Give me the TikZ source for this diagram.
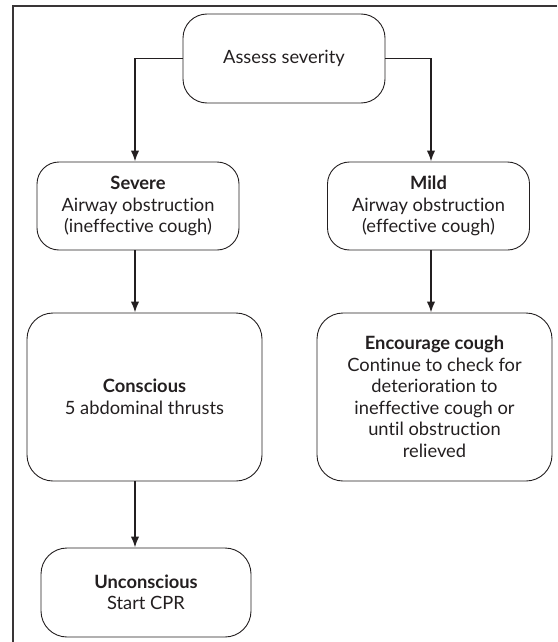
\documentclass[tikz,border=0pt]{standalone}
\usepackage{fontspec}
\setmainfont{Lato}[Ligatures=NoCommon]
\usetikzlibrary{arrows.meta}
\definecolor{ink}{HTML}{231F20}
\tikzset{
  box/.style={draw=ink, line width=0.9pt, rounded corners=24pt, align=center,
    text=ink, inner sep=0pt, font=\fontsize{18.3}{21.5}\selectfont},
  arr/.style={draw=ink, line width=1.8pt, -{Latex[length=11pt,width=8.5pt]}},
  frame/.style={draw=ink!90, line width=1.4pt}
}
\begin{document}
\begin{tikzpicture}[x=1pt,y=-1pt]
\useasboundingbox (0,0) rectangle (557,642);
\draw[frame] (557,6) -- (13,6) -- (13,642);
\coordinate (L) at (135,0);
\coordinate (R) at (431,0);
\node[box, minimum width=202pt, minimum height=89pt] (assess) at (284,58.5) {Assess severity};
\node[box, rounded corners=22pt, minimum width=202pt, minimum height=88pt] (severe) at (138,206)
  {\textbf{Severe}\\Airway obstruction\\(ineffective cough)};
\node[box, rounded corners=22pt, minimum width=202pt, minimum height=88pt] (mild) at (428.5,206)
  {\textbf{Mild}\\Airway obstruction\\(effective cough)};
\node[box, rounded corners=26pt, minimum width=235pt, minimum height=168pt] (conscious) at (144.5,397)
  {\textbf{Conscious}\\5 abdominal thrusts};
\node[box, rounded corners=26pt, minimum width=235pt, minimum height=168pt] (encourage) at (434.5,397)
  {\textbf{Encourage cough}\\Continue to check for\\deterioration to\\ineffective cough or\\until obstruction\\relieved};
\node[box, rounded corners=26pt, minimum width=210pt, minimum height=89pt] (unconscious) at (146,592.5)
  {\textbf{Unconscious}\\Start CPR};
\draw[arr] (assess.west) -| (L |- severe.north);
\draw[arr] (assess.east) -| (R |- mild.north);
\draw[arr] (L |- severe.south) -- (L |- conscious.north);
\draw[arr] (R |- mild.south) -- (R |- encourage.north);
\draw[arr] (L |- conscious.south) -- (L |- unconscious.north);
\end{tikzpicture}
\end{document}
